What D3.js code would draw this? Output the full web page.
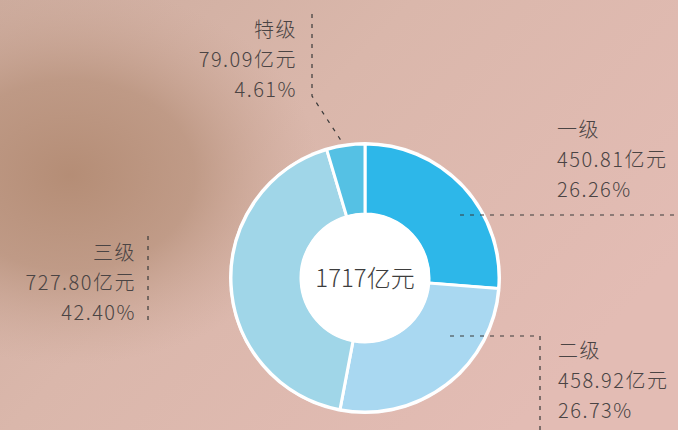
<!DOCTYPE html>
<html>
<head>
<meta charset="utf-8">
<script src="https://cdn.jsdelivr.net/npm/d3@7"></script>
<style>
  html, body { margin: 0; padding: 0; background: #ddb9b0; }
  #chart { width: 678px; height: 430px; }
  text { font-family: "Noto Sans CJK SC", "Noto Sans", sans-serif; font-weight: 300; }
</style>
</head>
<body>
<div id="chart"></div>
<script>
var categories = ["一级", "二级", "三级", "特级"];
var amounts = ["450.81", "458.92", "727.80", "79.09"];
var shares = [26.26, 26.73, 42.40, 4.61];
var totalLabel = "1717亿元";

function init() {
    var w = 678;
    var h = 430;
    var cx = 365;
    var cy = 278;
    var outerR = 134;
    var innerR = 64;

    var colors = d3.scaleOrdinal()
        .domain(categories)
        .range(["#2db7e9", "#a9d8f1", "#a0d6e8", "#55c1e4"]);

    var svg = d3.select("#chart")
        .append("svg")
        .attr("width", w)
        .attr("height", h);

    var defs = svg.append("defs");

    // background: pink base with a blurred brown patch on the left
    var base = defs.append("linearGradient")
        .attr("id", "bg")
        .attr("x1", 0).attr("y1", 0).attr("x2", 1).attr("y2", 0.6);
    base.append("stop").attr("offset", "0%").attr("stop-color", "#cdac9e");
    base.append("stop").attr("offset", "45%").attr("stop-color", "#dab7ab");
    base.append("stop").attr("offset", "100%").attr("stop-color", "#e3bcb4");

    var blob = defs.append("radialGradient")
        .attr("id", "blob");
    blob.append("stop").attr("offset", "0%").attr("stop-color", "#b38b73").attr("stop-opacity", 0.95);
    blob.append("stop").attr("offset", "50%").attr("stop-color", "#b8927c").attr("stop-opacity", 0.75);
    blob.append("stop").attr("offset", "100%").attr("stop-color", "#c9a594").attr("stop-opacity", 0);

    svg.append("rect")
        .attr("width", w)
        .attr("height", h)
        .attr("fill", "url(#bg)");

    svg.append("ellipse")
        .attr("cx", 70)
        .attr("cy", 175)
        .attr("rx", 250)
        .attr("ry", 190)
        .attr("fill", "url(#blob)");

    // donut
    var pie = d3.pie()
        .sort(null)
        .value(function(d) { return d; });

    var arc = d3.arc()
        .innerRadius(innerR)
        .outerRadius(outerR);

    var g = svg.append("g")
        .attr("transform", "translate(" + cx + "," + cy + ")");

    g.append("circle")
        .attr("r", outerR + 2)
        .attr("fill", "#fbfdfe");

    g.selectAll("path")
        .data(pie(shares))
        .enter()
        .append("path")
        .attr("d", arc)
        .attr("fill", function(d, i) { return colors(categories[i]); })
        .attr("stroke", "#ffffff")
        .attr("stroke-width", 3);

    g.append("circle")
        .attr("r", innerR + 1)
        .attr("fill", "#ffffff");

    g.append("text")
        .attr("text-anchor", "middle")
        .attr("y", 9)
        .attr("font-size", 24)
        .attr("fill", "#3d3d3d")
        .text(totalLabel);

    // label anchors for 一级, 二级, 三级, 特级
    var labelPos = [
        { x: 557, y: 137, anchor: "start" },
        { x: 558, y: 358, anchor: "start" },
        { x: 136, y: 260, anchor: "end" },
        { x: 297, y: 37, anchor: "end" }
    ];

    var leaders = [
        [[460, 215], [678, 215]],
        [[450, 336], [540, 336], [540, 430]],
        [[148, 236], [148, 322]],
        [[312, 14], [312, 96], [342, 142]]
    ];

    var line = d3.line();

    svg.selectAll("path.leader")
        .data(leaders)
        .enter()
        .append("path")
        .attr("class", "leader")
        .attr("d", line)
        .attr("fill", "none")
        .attr("stroke", "#3a3a3a")
        .attr("stroke-width", 1.2)
        .attr("stroke-dasharray", "4,6");

    var lab = svg.selectAll("text.lab")
        .data(categories)
        .enter()
        .append("text")
        .attr("class", "lab")
        .attr("x", function(d, i) { return labelPos[i].x; })
        .attr("y", function(d, i) { return labelPos[i].y; })
        .attr("text-anchor", function(d, i) { return labelPos[i].anchor; })
        .attr("font-size", 20)
        .attr("letter-spacing", 1.5)
        .attr("fill", "#4a4444");

    lab.append("tspan")
        .text(function(d) { return d; });
    lab.append("tspan")
        .attr("x", function(d, i) { return labelPos[i].x; })
        .attr("dy", 30)
        .text(function(d, i) { return amounts[i] + "亿元"; });
    lab.append("tspan")
        .attr("x", function(d, i) { return labelPos[i].x; })
        .attr("dy", 30)
        .text(function(d, i) { return shares[i].toFixed(2) + "%"; });
}

window.onload = init;
</script>
</body>
</html>
